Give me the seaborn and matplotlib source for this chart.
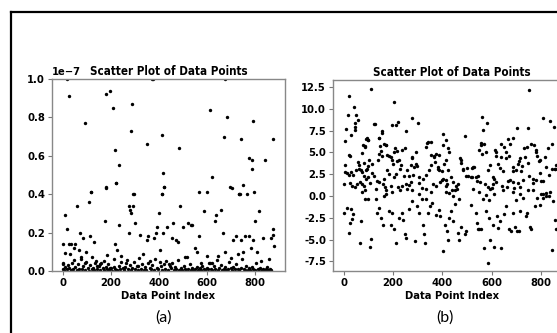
import numpy as np
import pandas as pd
import seaborn as sns
import matplotlib
matplotlib.use("Agg")
import matplotlib.pyplot as plt
from matplotlib.lines import Line2D

# ---------------- data ----------------
# Panel (a): values in units of 1e-7
a_x_upper = [19, 26, 95, 118, 181, 198, 209, 216, 223, 236, 283, 287, 297, 179, 352, 370, 374,
             414, 418, 421, 412, 482, 599, 610, 620, 669, 676, 682, 702, 731, 737, 741, 748,
             775, 785, 785, 789, 796, 841, 874]
a_y_upper = [1.0, 0.91, 0.77, 0.41, 0.92, 0.94, 0.85, 0.63, 0.46, 0.55, 0.73, 0.87, 0.40, 0.43,
             0.66, 1.0, 1.0, 0.71, 0.51, 0.44, 0.40, 0.64, 0.41, 0.84, 0.49, 0.70, 1.0, 0.80,
             0.43, 0.40, 0.40, 0.69, 0.45, 0.59, 0.58, 0.53, 0.78, 0.41, 0.58, 0.69]

a_x_mid = [0, 8, 19, 0, 3, 12, 26, 36, 30, 49, 53, 60, 67, 74, 77, 85, 91, 99, 108, 116, 113,
           122, 129, 136, 143, 157, 170, 181, 177, 184, 195, 212, 221, 219, 225, 236, 242, 253,
           264, 274, 274, 280, 283, 291, 294, 301, 311, 322, 333, 349, 356, 363, 379, 388, 393,
           401, 411, 404, 415, 421, 432, 443, 452, 459, 470, 480, 487, 498, 507, 517, 521, 531,
           539, 549, 558, 566, 566, 576, 586, 599, 608, 621, 631, 635, 645, 658, 665, 676, 693,
           700, 709, 718, 727, 734, 741, 750, 758, 764, 772, 782, 792, 800, 805, 816, 823, 833,
           855, 865, 872, 874, 878]
a_y_mid = [0.14, 0.29, 0.22, 0.044, 0.035, 0.093, 0.14, 0.14, 0.088, 0.12, 0.14, 0.34, 0.11,
           0.20, 0.074, 0.17, 0.044, 0.097, 0.36, 0.41, 0.18, 0.074, 0.15, 0.044, 0.026, 0.035,
           0.053, 0.44, 0.26, 0.085, 0.014, 0.021, 0.46, 0.14, 0.11, 0.24, 0.079, 0.014, 0.044,
           0.20, 0.34, 0.32, 0.30, 0.34, 0.40, 0.25, 0.026, 0.19, 0.088, 0.16, 0.18, 0.053, 0.17,
           0.20, 0.23, 0.30, 0.40, 0.11, 0.20, 0.44, 0.23, 0.035, 0.17, 0.25, 0.16, 0.15, 0.34,
           0.23, 0.074, 0.074, 0.25, 0.24, 0.24, 0.12, 0.097, 0.41, 0.18, 0.044, 0.31, 0.079,
           0.044, 0.044, 0.26, 0.29, 0.079, 0.32, 0.20, 0.097, 0.44, 0.07, 0.16, 0.18, 0.088,
           0.40, 0.16, 0.097, 0.18, 0.40, 0.18, 0.12, 0.16, 0.26, 0.097, 0.31, 0.053, 0.17,
           0.062, 0.17, 0.19, 0.22, 0.13]

a_x_low = [2, 6, 11, 17, 21, 27, 33, 38, 44, 47, 53, 58, 63, 69, 75, 81, 86, 92, 97, 104, 109,
           115, 120, 127, 131, 138, 144, 150, 156, 161, 167, 173, 179, 183, 189, 194, 201, 206,
           213, 218, 226, 232, 237, 244, 249, 256, 261, 267, 272, 278, 285, 289, 296, 302, 308,
           314, 319, 326, 331, 337, 344, 348, 355, 361, 366, 373, 378, 384, 391, 396, 403, 407,
           413, 419, 426, 431, 437, 444, 449, 455, 461, 467, 472, 479, 484, 491, 496, 503, 509,
           514, 520, 527, 533, 538, 545, 550, 556, 563, 569, 574, 580, 587, 593, 598, 604, 610,
           616, 622, 627, 633, 640, 646, 651, 657, 663, 669, 675, 680, 686, 692, 698, 704, 709,
           716, 721, 727, 733, 739, 744, 751, 756, 762, 768, 774, 779, 786, 791, 797, 803, 809,
           814, 820, 826, 831, 837, 843, 848, 854, 860, 865]
a_y_low = [0.012, 0.004, 0.02, 0.008, 0.03, 0.015, 0.005, 0.04, 0.01, 0.055, 0.02, 0.006, 0.035,
           0.012, 0.06, 0.008, 0.025, 0.003, 0.045, 0.015, 0.002, 0.03, 0.009, 0.018, 0.004,
           0.05, 0.012, 0.028, 0.006, 0.04, 0.015, 0.003, 0.022, 0.01, 0.035, 0.005, 0.018,
           0.002, 0.065, 0.012, 0.004, 0.028, 0.008, 0.045, 0.015, 0.003, 0.02, 0.055, 0.01,
           0.032, 0.006, 0.018, 0.048, 0.009, 0.025, 0.004, 0.07, 0.012, 0.038, 0.006, 0.02,
           0.003, 0.042, 0.014, 0.008, 0.03, 0.005, 0.06, 0.016, 0.009, 0.045, 0.024, 0.004,
           0.035, 0.012, 0.05, 0.007, 0.028, 0.015, 0.04, 0.003, 0.02, 0.01, 0.058, 0.006,
           0.015, 0.004, 0.025, 0.008, 0.002, 0.012, 0.035, 0.005, 0.018, 0.003, 0.01, 0.022,
           0.004, 0.015, 0.006, 0.028, 0.01, 0.003, 0.018, 0.008, 0.04, 0.012, 0.005, 0.025,
           0.009, 0.055, 0.003, 0.015, 0.032, 0.006, 0.012, 0.02, 0.004, 0.009, 0.045, 0.014,
           0.003, 0.022, 0.008, 0.035, 0.012, 0.005, 0.018, 0.06, 0.01, 0.004, 0.028, 0.007,
           0.015, 0.003, 0.02, 0.011, 0.005, 0.04, 0.009, 0.002, 0.016, 0.006, 0.012, 0.003,
           0.008, 0.022, 0.005, 0.01, 0.004]

# Panel (b)
b_x = [109, 20, 16, 41, 50, 57, 10, 45, 44, 47, 31, 20, 24, 3, 4, 5, 14, 23, 31, 37, 50, 61, 68,
       75, 82, 91, 97, 99, 96, 92, 88, 78, 75, 62, 59, 0, 27, 34, 45, 52, 64, 72, 83, 90, 100, 105,
       126, 122, 102, 116, 121, 136, 143, 146, 150, 154, 157, 163, 170, 142, 140, 177, 184, 190,
       197, 204, 211, 222, 196, 200, 208, 218, 224, 231, 238, 249, 252, 276, 258, 265, 176, 185,
       205, 214, 164, 144, 158, 167, 191, 219, 235, 253, 272, 282, 286, 293, 303, 279, 295, 273,
       306, 320, 333, 340, 354, 334, 347, 355, 367, 374, 385, 401, 404, 415, 422, 428, 371, 381,
       388, 398, 408, 416, 423, 435, 442, 456, 462, 453, 439, 361, 375, 389, 402, 414, 421, 476,
       472, 483, 491, 497, 503, 517, 524, 530, 537, 544, 551, 558, 565, 562, 581, 571, 578, 585,
       592, 605, 616, 619, 626, 633, 640, 649, 660, 667, 676, 687, 703, 673, 687, 700, 707, 714,
       725, 735, 744, 748, 752, 762, 771, 779, 785, 796, 810, 816, 823, 830, 839, 853, 847, 857,
       861, 769, 782, 797, 811, 688, 708, 715, 728, 620, 641, 661, 674, 552, 572, 586, 606,
       # lower half
       0, 14, 31, 37, 34, 20, 27, 64, 68, 88, 99, 105, 109, 132, 136, 143, 150, 159, 163, 173, 184,
       190, 197, 204, 214, 224, 238, 241, 249, 254, 265, 276, 290, 299, 306, 317, 322, 326, 331,
       340, 350, 360, 374, 385, 390, 401, 412, 418, 422, 428, 435, 442, 453, 462, 469, 476, 494,
       497, 517, 537, 540, 544, 551, 558, 565, 571, 578, 585, 589, 595, 605, 612, 622, 626, 633,
       640, 649, 660, 671, 680, 687, 694, 703, 711, 717, 728, 739, 744, 758, 762, 775, 785, 796,
       803, 810, 823, 834, 847, 850, 861, 857,
       # near zero band
       72, 86, 129, 170, 197, 227, 258, 279, 306, 333, 354, 415, 524, 551, 592, 612, 646, 687,
       714, 748, 769, 810, 837,
       # extra mid band
       87, 98, 80, 94, 114, 141, 155, 171, 203, 216, 230, 243, 264, 278, 298, 307, 318, 332, 339,
       356, 366, 384, 400, 414, 427, 444, 461, 468, 475, 484, 502, 520, 522, 543, 556, 563, 577,
       590, 601, 611, 620, 638, 645, 658, 665, 686, 693, 699, 713, 720, 733, 747, 754, 767, 781,
       792, 801, 822, 833, 846, 856]
b_y = [12.3, 11.5, 9.3, 10.2, 9.3, 8.7, 7.65, 8.4, 7.9, 7.6, 7.0, 4.7, 4.6, 6.3, 3.5, 2.8, 2.6,
       2.4, 2.7, 2.35, 3.0, 3.15, 3.0, 2.7, 2.3, 3.0, 3.4, 6.4, 6.7, 6.5, 5.65, 5.8, 4.9, 3.5, 3.9,
       1.35, 1.5, 1.2, 1.0, 1.4, 1.6, 1.35, 1.2, 1.9, 2.2, 1.5, 8.3, 8.25, 4.1, 2.6, 2.3, 1.7, 6.7,
       5.7, 5.2, 7.4, 4.6, 6.0, 5.9, 4.8, 4.1, 4.7, 4.6, 4.5, 8.15, 10.8, 8.15, 8.5, 4.1, 3.7, 5.5,
       5.2, 4.1, 3.5, 5.3, 5.5, 7.5, 8.9, 3.0, 2.3, 3.0, 2.5, 2.2, 2.5, 2.0, 1.6, 1.4, 1.0, 1.2,
       1.0, 1.2, 1.4, 1.6, 2.4, 3.3, 3.7, 8.35, 4.5, 5.1, 3.5, 1.5, 2.0, 5.65, 6.2, 6.2, 2.4, 3.0,
       3.5, 4.6, 4.8, 4.7, 5.85, 7.1, 6.4, 5.5, 5.1, 3.9, 3.35, 3.0, 2.9, 3.7, 4.1, 3.0, 2.2, 1.6,
       1.2, 1.4, 0.65, 0.65, 1.4, 1.2, 1.6, 2.0, 1.8, 1.4, 3.8, 4.3, 3.0, 6.9, 2.3, 2.3, 2.2, 3.35,
       3.35, 2.2, 2.3, 5.3, 6.1, 7.6, 9.1, 8.35, 6.0, 5.1, 3.0, 3.5, 2.2, 5.3, 4.6, 3.7, 3.2, 4.5,
       5.65, 5.1, 6.5, 6.0, 6.7, 7.8, 4.6, 3.35, 3.0, 3.7, 4.3, 3.4, 4.5, 5.65, 7.8, 12.1, 6.0,
       5.85, 5.3, 4.6, 4.1, 8.9, 4.5, 3.35, 5.5, 8.65, 7.95, 6.0, 3.15, 3.5, 2.0, 1.8, 2.6, 1.7,
       1.6, 1.5, 1.0, 1.8, 1.6, 1.2, 1.0, 1.8, 1.6, 1.4, 1.0, 1.4,
       -2.0, -1.35, -1.5, -2.1, -2.6, -4.2, -3.1, -5.4, -2.9, -0.4, -0.4, -5.9, -4.9, -0.4, -2.0,
       -1.35, -2.5, -3.3, 0.0, 0.2, -1.7, -3.3, -1.9, -3.8, -5.4, -2.5, -2.0, -2.8, -4.4, -4.8,
       -1.5, -0.6, -5.2, -1.15, -1.9, -0.4, -3.3, -4.4, -5.4, -2.0, -1.15, -0.8, -2.2, -1.65,
       -2.3, -6.35, -3.3, -4.0, -5.0, -2.5, -1.7, -2.9, -0.9, -4.2, -5.1, -3.5, -4.4, -4.0, -1.0,
       -1.9, -3.1, -3.8, -3.8, -3.8, -0.4, -6.0, -1.7, -7.7, -2.5, -5.0, -3.3, -5.8, -2.3, -3.65,
       -2.9, -6.0, -2.1, -1.15, -3.8, -4.0, -1.9, -3.5, -4.0, -4.0, -1.7, -0.2, -2.3, -1.9, -3.5,
       -3.8, -1.15, -0.2, -1.0, 0.2, -0.2, 0.4, 0.0, -6.15, -0.6, -3.8, -2.8,
       0.45, 0.7, 0.85, 0.65, 0.45, 0.7, 0.85, 0.65, 0.25, 0.85, 0.45, 0.45, 0.85, 0.45, 0.85,
       0.25, 0.65, 0.45, 0.25, 0.7, 0.65, 0.25, 0.45,
       5.74, 6.4, 3.8, 3.15, 3.7, 6.7, 7.2, 5.9, 5.0, 4.0, 3.15, 2.3, 1.3, 4.4, 3.4, 2.15, 0.9,
       -0.4, 6.1, 4.7, 4.5, 3.15, 1.8, 1.1, 0.3, -0.05, 0.85, -0.3, 4.1, 3.15, 3.2, 3.2, 2.15, 1.7,
       5.85, 4.85, 0.15, -0.45, 0.9, 1.9, 5.1, 5.95, 2.85, 4.4, 1.7, 2.9, 0.9, -0.45, 4.0, 2.85,
       5.55, 3.8, 2.3, 1.5, 5.1, 4.0, 1.7, -0.05, 2.45, 3.15, 3.05]

tick_vals = [0, 200, 400, 600, 800]
title_text = "Scatter Plot of Data Points"
xlabel_text = "Data Point Index"
captions = ["(a)", "(b)"]

# ---------------- figure ----------------
W, H = 557, 333
plt.rcParams["font.family"] = ["DejaVu Sans"]
fig = plt.figure(figsize=(W / 100, H / 100), dpi=100)
fig.patch.set_facecolor("white")

COND = "condensed"


def px_axes(left, top, right, bottom):
    return [left / W, 1 - bottom / H, (right - left) / W, (bottom - top) / H]


ax1 = fig.add_axes(px_axes(52, 79, 285, 271))
ax2 = fig.add_axes(px_axes(333, 80, 571, 271))

a_df = pd.DataFrame({
    "x": a_x_upper + a_x_mid + a_x_low,
    "y": [v * 1e-7 for v in a_y_upper + a_y_mid + a_y_low],
})
b_df = pd.DataFrame({"x": b_x, "y": b_y})

for ax, df in [(ax1, a_df), (ax2, b_df)]:
    sns.scatterplot(data=df, x="x", y="y", ax=ax, color="black", s=6, linewidth=0,
                    legend=False)

ax1.set_xlim(-44, 923)
ax1.set_ylim(0, 1e-7)
ax2.set_xlim(-44, 923)
ax2.set_ylim(-8.6, 13.3)
ax2.set_yticks([-7.5, -5.0, -2.5, 0.0, 2.5, 5.0, 7.5, 10.0, 12.5])
ax2.yaxis.set_major_formatter(matplotlib.ticker.FormatStrFormatter("%.1f"))
ax1.yaxis.set_major_formatter(matplotlib.ticker.ScalarFormatter(useMathText=False))
ax1.ticklabel_format(axis="y", style="sci", scilimits=(0, 0))

fs = 8
for ax in (ax1, ax2):
    ax.set_xticks(tick_vals)
    ax.set_title(title_text, fontsize=8.3, fontweight="bold", fontstretch=COND, pad=3, y=1.0)
    ax.set_xlabel(xlabel_text, fontsize=fs, fontweight="bold", fontstretch=COND, labelpad=2)
    ax.set_ylabel("")
    ax.tick_params(labelsize=fs, length=3, width=0.8, color="#777777", pad=2)
    for sp in ax.spines.values():
        sp.set_color("#888888")
        sp.set_linewidth(1.0)

fig.canvas.draw()
for ax in (ax1, ax2):
    for lab in ax.get_xticklabels() + ax.get_yticklabels():
        lab.set_fontweight("bold")
        lab.set_fontstretch(COND)
off = ax1.yaxis.get_offset_text()
off.set_fontsize(fs)
off.set_fontweight("bold")
off.set_fontstretch(COND)

fig.text(163 / W, 1 - 318 / H, captions[0], ha="center", va="center", fontsize=11.5,
         family=["Lato", "DejaVu Sans"])
fig.text(445 / W, 1 - 318 / H, captions[1], ha="center", va="center", fontsize=11.5,
         family=["Lato", "DejaVu Sans"])

# outer frame (top and left lines)
fig.add_artist(Line2D([10.5 / W, 1.0], [1 - 12 / H, 1 - 12 / H], transform=fig.transFigure,
                      color="black", linewidth=1.6))
fig.add_artist(Line2D([11 / W, 11 / W], [0.0, 1 - 12 / H], transform=fig.transFigure,
                      color="black", linewidth=1.6))

fig.savefig("out.png", dpi=100, facecolor="white")
